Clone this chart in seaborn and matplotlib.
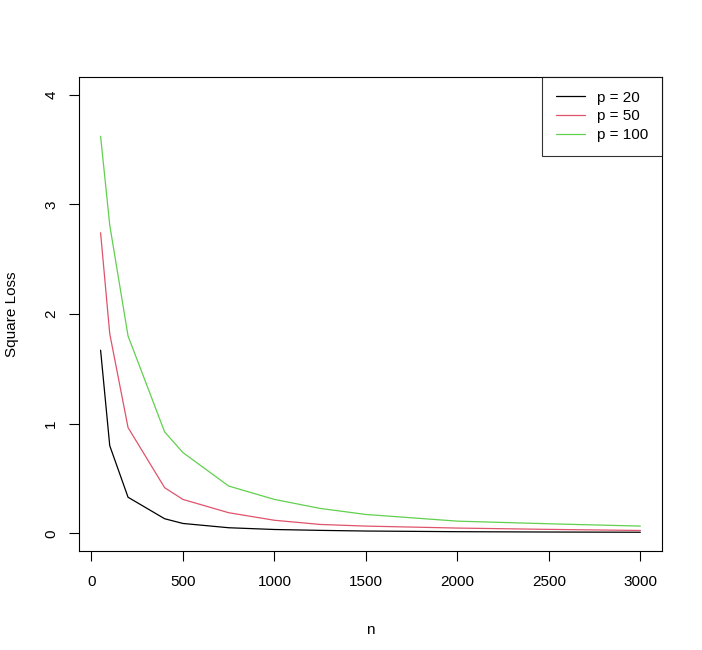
import pandas as pd
import matplotlib.pyplot as plt
import seaborn as sns

sns.set_style("white")
plt.rcParams['font.family'] = ['Liberation Sans', 'DejaVu Sans']
plt.rcParams['text.color'] = 'black'
plt.rcParams['axes.labelcolor'] = 'black'
plt.rcParams['xtick.color'] = 'black'
plt.rcParams['ytick.color'] = 'black'

# 样本量与三种维度下的平方损失
n = [50, 100, 200, 400, 500, 750, 1000, 1250, 1500, 2000, 2500, 3000]
loss_p20 = [1.67, 0.80, 0.33, 0.134, 0.091, 0.052, 0.036, 0.028, 0.022, 0.016, 0.013, 0.011]
loss_p50 = [2.74, 1.82, 0.965, 0.417, 0.31, 0.189, 0.12, 0.082, 0.067, 0.049, 0.037, 0.027]
loss_p100 = [3.62, 2.81, 1.80, 0.925, 0.737, 0.432, 0.31, 0.228, 0.173, 0.112, 0.088, 0.067]
labels = ["p = 20", "p = 50", "p = 100"]
colors = ["black", "#DF536B", "#61D04F"]

df = pd.concat([
    pd.DataFrame({"n": n, "loss": v, "p": lab})
    for v, lab in zip([loss_p20, loss_p50, loss_p100], labels)
])

fig = plt.figure(figsize=(7.02, 6.5), dpi=100)
ax = fig.add_axes([79/702, 99/650, 583/702, 474/650])
sns.lineplot(data=df, x="n", y="loss", hue="p", palette=colors, ax=ax, linewidth=0.9)

ax.set_xlim(-68, 3118)
ax.set_ylim(-0.16, 4.16)
ax.set_xticks([0, 500, 1000, 1500, 2000, 2500, 3000])
ax.set_yticks([0, 1, 2, 3, 4])
ax.tick_params(axis="both", direction="out", length=7, width=0.8, labelsize=11,
               bottom=True, left=True)
ax.tick_params(axis="x", pad=10)
ax.tick_params(axis="y", pad=13)
plt.setp(ax.get_yticklabels(), rotation=90, ha="center", va="center")

ax.set_xlabel("n", fontsize=11)
ax.set_ylabel("Square Loss", fontsize=11)
ax.xaxis.set_label_coords(0.5, (551 - 630) / 474)
ax.xaxis.label.set_va("center")
ax.yaxis.set_label_coords((12 - 79) / 583, 0.5)
ax.yaxis.label.set_va("center")

for s in ax.spines.values():
    s.set_color("black")
    s.set_linewidth(0.8)

leg = ax.legend(loc="upper right", bbox_to_anchor=(1.0, 1.0), borderaxespad=0,
                fontsize=11, frameon=True, fancybox=False, handlelength=1.9,
                borderpad=0.9, labelspacing=0.3, handletextpad=0.8)
leg.get_frame().set_edgecolor("black")
leg.get_frame().set_linewidth(0.8)

fig.savefig("out.png", dpi=100)
